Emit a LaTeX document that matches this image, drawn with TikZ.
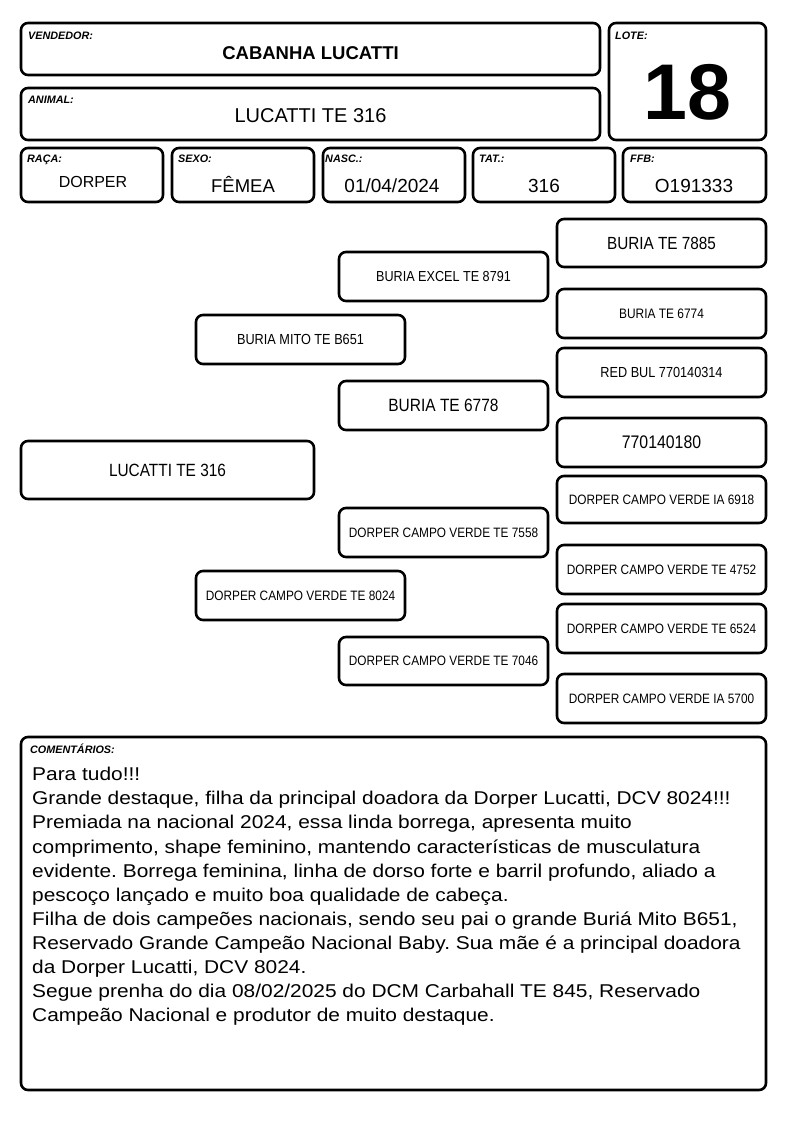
\documentclass[tikz,border=0pt]{standalone}
\usepackage{fontspec}
\setmainfont{Liberation Sans}
\newfontfamily\pfont[FakeStretch=0.87]{Liberation Sans}
\newfontfamily\cfont[FakeStretch=1.13]{Liberation Sans}
\newcommand\fsz[1]{\fontsize{#1pt}{#1pt}\selectfont}
\newcommand\bx[7]{\node[box, minimum width={#4-#2}, minimum height={#5-#3}, font=#6] (#1) at ({(#2+#4)/2},{(#3+#5)/2}) {#7};}
\frenchspacing
\begin{document}
\begin{tikzpicture}[x=1pt,y=-1pt,
  box/.style={draw, line width=2.6pt, rounded corners=7pt, inner sep=0pt, align=center},
  lab/.style={font=\fsz{10.8}\bfseries\itshape, anchor=base west, inner sep=0pt},
  val/.style={anchor=base, inner sep=0pt}]
\useasboundingbox (0,0) rectangle (794,1123);
% header
\bx{vend}{21}{23}{600}{75}{}{}
\bx{anim}{21}{88}{600}{140}{}{}
\bx{lote}{609}{23}{766}{140}{}{}
\bx{raca}{21}{148}{163}{202}{}{}
\bx{sexo}{172}{148}{314}{202}{}{}
\bx{nasc}{323}{148}{465}{202}{}{}
\bx{tat}{473}{148}{615}{202}{}{}
\bx{ffb}{623}{148}{766}{202}{}{}
\node[lab] (lvend) at (28,39.5) {VENDEDOR:};
\node[lab] (lanim) at (28,103.5) {ANIMAL:};
\node[lab] (llote) at (615,39.5) {LOTE:};
\node[lab] (lraca) at (27,163) {RAÇA:};
\node[lab] (lsexo) at (178,163) {SEXO:};
\node[lab] (lnasc) at (325,163) {NASC.:};
\node[lab] (ltat) at (479,163) {TAT.:};
\node[lab] (lffb) at (630,163) {FFB:};
\node[val, font=\fsz{18.5}\bfseries] (tvend) at (310.5,60) {CABANHA LUCATTI};
\node[val, font=\fsz{20}] (tanim) at (310.5,123) {LUCATTI TE 316};
\node[val, font=\fsz{79}\bfseries] (tlote) at (687.5,120) {18};
\node[val, font=\fsz{16}] (traca) at (93,188) {DORPER};
\node[val, font=\fsz{18.5}] (tsexo) at (243,193) {FÊMEA};
\node[val, font=\fsz{19}] (tnasc) at (392,193) {01/04/2024};
\node[val, font=\fsz{19}] (ttat) at (544,193) {316};
\node[val, font=\fsz{19}] (tffb) at (694,193) {O191333};
% pedigree
\bx{p0}{21}{441}{314}{499}{\pfont\fsz{17.7}}{LUCATTI TE 316}
\bx{p1}{196}{315}{405}{364}{\pfont\fsz{14.6}}{BURIA MITO TE B651}
\bx{p2}{196}{571}{405}{620}{\pfont\fsz{13.6}}{DORPER CAMPO VERDE TE 8024}
\bx{p3}{339}{252}{548}{301}{\pfont\fsz{14.5}}{BURIA EXCEL TE 8791}
\bx{p4}{339}{381}{548}{430}{\pfont\fsz{17.8}}{BURIA TE 6778}
\bx{p5}{339}{508}{548}{557}{\pfont\fsz{13.6}}{DORPER CAMPO VERDE TE 7558}
\bx{p6}{339}{637}{548}{685}{\pfont\fsz{13.6}}{DORPER CAMPO VERDE TE 7046}
\bx{p7}{557}{219}{766}{267}{\pfont\fsz{17.6}}{BURIA TE 7885}
\bx{p8}{557}{289}{766}{338}{\pfont\fsz{13.7}}{BURIA TE 6774}
\bx{p9}{557}{348}{766}{397}{\pfont\fsz{14.6}}{RED BUL 770140314}
\bx{p10}{557}{418}{766}{467}{\pfont\fsz{18.2}}{770140180}
\bx{p11}{557}{476}{766}{523}{\pfont\fsz{13.6}}{DORPER CAMPO VERDE IA 6918}
\bx{p12}{557}{545}{766}{594}{\pfont\fsz{13.6}}{DORPER CAMPO VERDE TE 4752}
\bx{p13}{557}{604}{766}{653}{\pfont\fsz{13.6}}{DORPER CAMPO VERDE TE 6524}
\bx{p14}{557}{674}{766}{723}{\pfont\fsz{13.6}}{DORPER CAMPO VERDE IA 5700}
% comments
\bx{com}{21}{737}{766}{1090}{}{}
\node[lab] (lcom) at (30,753) {COMENTÁRIOS:};
\foreach \t [count=\i from 0] in {
  {Para tudo!!!},
  {Grande destaque, filha da principal doadora da Dorper Lucatti, DCV 8024!!!},
  {Premiada na nacional 2024, essa linda borrega, apresenta muito},
  {comprimento, shape feminino, mantendo características de musculatura},
  {evidente. Borrega feminina, linha de dorso forte e barril profundo, aliado a},
  {pescoço lançado e muito boa qualidade de cabeça.},
  {Filha de dois campeões nacionais, sendo seu pai o grande Buriá Mito B651,},
  {Reservado Grande Campeão Nacional Baby. Sua mãe é a principal doadora},
  {da Dorper Lucatti, DCV 8024.},
  {Segue prenha do dia 08/02/2025 do DCM Carbahall TE 845, Reservado},
  {Campeão Nacional e produtor de muito destaque.}}
  \node[anchor=base west, inner sep=0pt, font=\cfont\fsz{18.5}] (c\i) at (32,{780.7+24.1*\i}) {\t};
\end{tikzpicture}
\end{document}
